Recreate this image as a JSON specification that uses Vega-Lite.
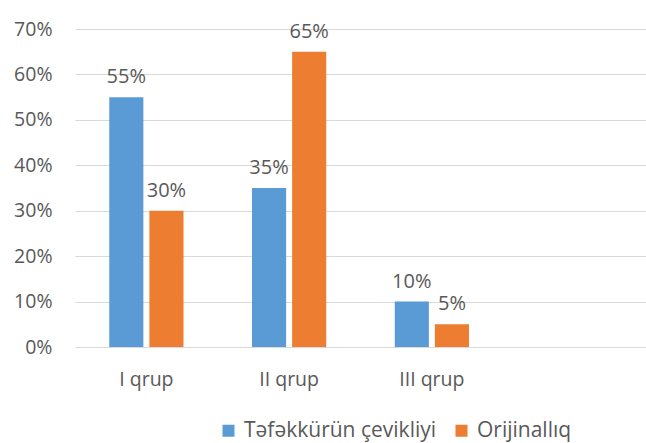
{
  "$schema": "https://vega.github.io/schema/vega-lite/v6.json",
  "width": 571,
  "height": 318,
  "autosize": {"type": "none"},
  "padding": {"left": 75, "top": 29, "right": 0, "bottom": 96},
  "background": "white",
  "config": {
    "view": {"stroke": null},
    "font": "Open Sans",
    "axis": {"labelColor": "#595959", "labelFont": "Open Sans", "labelFontSize": 19.5, "grid": false},
    "legend": {"labelColor": "#595959", "labelFont": "Open Sans", "labelFontSize": 21, "labelLimit": 400}
  },
  "data": {
    "values": [
      {"group": "I qrup", "series": "Təfəkkürün çevikliyi", "value": 0.55},
      {"group": "I qrup", "series": "Orijinallıq", "value": 0.30},
      {"group": "II qrup", "series": "Təfəkkürün çevikliyi", "value": 0.35},
      {"group": "II qrup", "series": "Orijinallıq", "value": 0.65},
      {"group": "III qrup", "series": "Təfəkkürün çevikliyi", "value": 0.10},
      {"group": "III qrup", "series": "Orijinallıq", "value": 0.05}
    ]
  },
  "encoding": {
    "x": {
      "field": "group", "type": "nominal",
      "scale": {"domain": ["I qrup", "II qrup", "III qrup", " "], "paddingInner": 0.48, "paddingOuter": 0.24},
      "axis": {"title": null, "labelAngle": 0, "ticks": false, "domain": true, "domainColor": "#d9d9d9", "labelPadding": 23}
    },
    "xOffset": {
      "field": "series", "type": "nominal",
      "scale": {"domain": ["Təfəkkürün çevikliyi", "Orijinallıq"], "paddingInner": 0.15}
    },
    "y": {
      "field": "value", "type": "quantitative",
      "scale": {"domain": [0, 0.7]},
      "axis": {"title": null, "format": ".0%", "values": [0, 0.1, 0.2, 0.3, 0.4, 0.5, 0.6, 0.7], "grid": true, "gridColor": "#d9d9d9", "ticks": false, "domain": false, "labelPadding": 23}
    }
  },
  "layer": [
    {
      "mark": {"type": "bar"},
      "encoding": {
        "color": {
          "field": "series", "type": "nominal",
          "scale": {"domain": ["Təfəkkürün çevikliyi", "Orijinallıq"], "range": ["#5b9bd5", "#ed7d31"]},
          "legend": {"title": null, "orient": "none", "direction": "horizontal", "legendX": 143, "legendY": 391, "symbolType": "square", "symbolSize": 144, "columnPadding": 14, "labelOffset": 5, "labelLimit": 400}
        }
      }
    },
    {
      "mark": {"type": "text", "baseline": "bottom", "dy": -10, "fontSize": 20, "color": "#595959", "font": "Open Sans"},
      "encoding": {
        "text": {"field": "value", "type": "quantitative", "format": ".0%"}
      }
    }
  ]
}
